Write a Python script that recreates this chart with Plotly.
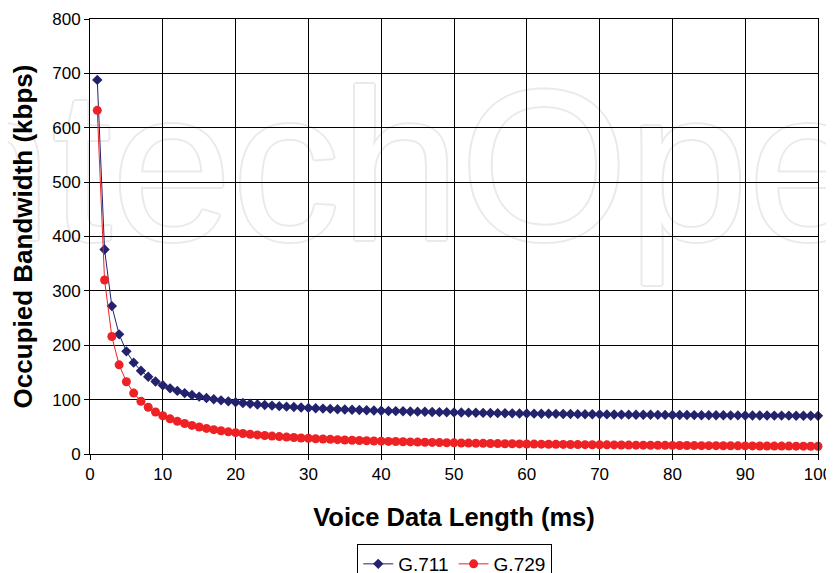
import plotly.graph_objects as go

# ---- data ----
voice_ms = list(range(1, 101))

g711_kbps = [
    688, 376, 272, 220, 188.8, 168, 153.1, 142, 133.3, 126.4,
    120.7, 116, 112, 108.6, 105.6, 103, 100.7, 98.7, 96.8, 95.2,
    93.7, 92.4, 91.1, 90, 89, 88, 87.1, 86.3, 85.5, 84.8,
    84.1, 83.5, 82.9, 82.4, 81.8, 81.3, 80.9, 80.4, 80, 79.6,
    79.2, 78.9, 78.5, 78.2, 77.9, 77.6, 77.3, 77, 76.7, 76.5,
    76.2, 76, 75.8, 75.6, 75.3, 75.1, 74.9, 74.8, 74.6, 74.4,
    74.2, 74.1, 73.9, 73.8, 73.6, 73.5, 73.3, 73.2, 73, 72.9,
    72.8, 72.7, 72.5, 72.4, 72.3, 72.2, 72.1, 72, 71.9, 71.8,
    71.7, 71.6, 71.5, 71.4, 71.3, 71.3, 71.2, 71.1, 71, 70.9,
    70.9, 70.8, 70.7, 70.6, 70.6, 70.5, 70.4, 70.4, 70.3, 70.2,
]

g729_kbps = [
    632, 320, 216, 164, 132.8, 112, 97.1, 86, 77.3, 70.4,
    64.7, 60, 56, 52.6, 49.6, 47, 44.7, 42.7, 40.8, 39.2,
    37.7, 36.4, 35.1, 34, 33, 32, 31.1, 30.3, 29.5, 28.8,
    28.1, 27.5, 26.9, 26.4, 25.8, 25.3, 24.9, 24.4, 24, 23.6,
    23.2, 22.9, 22.5, 22.2, 21.9, 21.6, 21.3, 21, 20.7, 20.5,
    20.2, 20, 19.8, 19.6, 19.3, 19.1, 18.9, 18.8, 18.6, 18.4,
    18.2, 18.1, 17.9, 17.8, 17.6, 17.5, 17.3, 17.2, 17, 16.9,
    16.8, 16.7, 16.5, 16.4, 16.3, 16.2, 16.1, 16, 15.9, 15.8,
    15.7, 15.6, 15.5, 15.4, 15.3, 15.3, 15.2, 15.1, 15, 14.9,
    14.9, 14.8, 14.7, 14.6, 14.6, 14.5, 14.4, 14.4, 14.3, 14.2,
]

x_ticks = [0, 10, 20, 30, 40, 50, 60, 70, 80, 90, 100]
y_ticks = [0, 100, 200, 300, 400, 500, 600, 700, 800]

series_names = ["G.711", "G.729"]
watermark_text = "IntechOpen"

NAVY = "#22226E"
RED = "#EE2225"
WM = "#EAEAEA"

fig = go.Figure()

# faint outlined watermark, in its own hidden subplot drawn below the chart grid
shadow = ", ".join(
    f"{dx}px {dy}px 0 {WM}"
    for dx, dy in [(2, 0), (-2, 0), (0, 2), (0, -2), (1.4, 1.4), (-1.4, 1.4), (1.4, -1.4), (-1.4, -1.4)]
)
fig.add_trace(go.Scatter(
    x=[430], y=[186], mode="text", text=[watermark_text],
    textposition="middle center",
    textfont=dict(family="Liberation Sans", size=216, color="white", shadow=shadow),
    cliponaxis=False, showlegend=False, hoverinfo="skip",
    xaxis="x", yaxis="y",
))

fig.add_trace(go.Scatter(
    x=voice_ms, y=g711_kbps, name=series_names[0], mode="lines+markers",
    line=dict(color=NAVY, width=1),
    marker=dict(symbol="diamond", size=8, color=NAVY),
    cliponaxis=False, xaxis="x2", yaxis="y2",
))
fig.add_trace(go.Scatter(
    x=voice_ms, y=g729_kbps, name=series_names[1], mode="lines+markers",
    line=dict(color=RED, width=1),
    marker=dict(symbol="circle", size=9, color=RED),
    cliponaxis=False, xaxis="x2", yaxis="y2",
))

FAM = "Liberation Sans, Arial, sans-serif"
axis_font = dict(family=FAM, size=17, color="black")

# the page adds an 8px body margin, so the figure is 8px smaller than the window
fig.update_layout(
    width=826, height=565,
    margin=dict(l=82, r=16, t=11, b=119, autoexpand=False),
    paper_bgcolor="white",
    plot_bgcolor="rgba(0,0,0,0)",
    font=axis_font,
    xaxis=dict(domain=[0, 1], range=[90, 818], visible=False, fixedrange=True),
    yaxis=dict(domain=[0, 1], range=[454, 19], visible=False, fixedrange=True, anchor="x"),
    xaxis2=dict(
        domain=[0, 1], anchor="y2", range=[0, 100], tickvals=x_ticks,
        showgrid=True, gridcolor="black", gridwidth=1,
        showline=True, linecolor="black", linewidth=1, mirror=True,
        ticks="outside", ticklen=5, tickcolor="black", zeroline=False,
        tickfont=axis_font, automargin=False,
        title=dict(text="Voice Data Length (ms)",
                   font=dict(family=FAM, size=25.5, color="black", weight="bold"),
                   standoff=24),
    ),
    yaxis2=dict(
        domain=[0, 1], anchor="x2", range=[0, 800], tickvals=y_ticks,
        showgrid=True, gridcolor="black", gridwidth=1,
        showline=True, linecolor="black", linewidth=1, mirror=True,
        ticks="outside", ticklen=5, tickcolor="black", zeroline=False,
        tickfont=axis_font, automargin=False,
        title=dict(text="Occupied Bandwidth (kbps)",
                   font=dict(family=FAM, size=26, color="black", weight="bold"),
                   standoff=14),
    ),
    legend=dict(
        orientation="h", x=0.501, xanchor="center", y=-0.2069, yanchor="top",
        bordercolor="black", borderwidth=1, bgcolor="white",
        font=dict(family=FAM, size=19, color="black"),
        itemwidth=30, tracegroupgap=0,
    ),
    showlegend=True,
)

fig.write_html("out.html")
